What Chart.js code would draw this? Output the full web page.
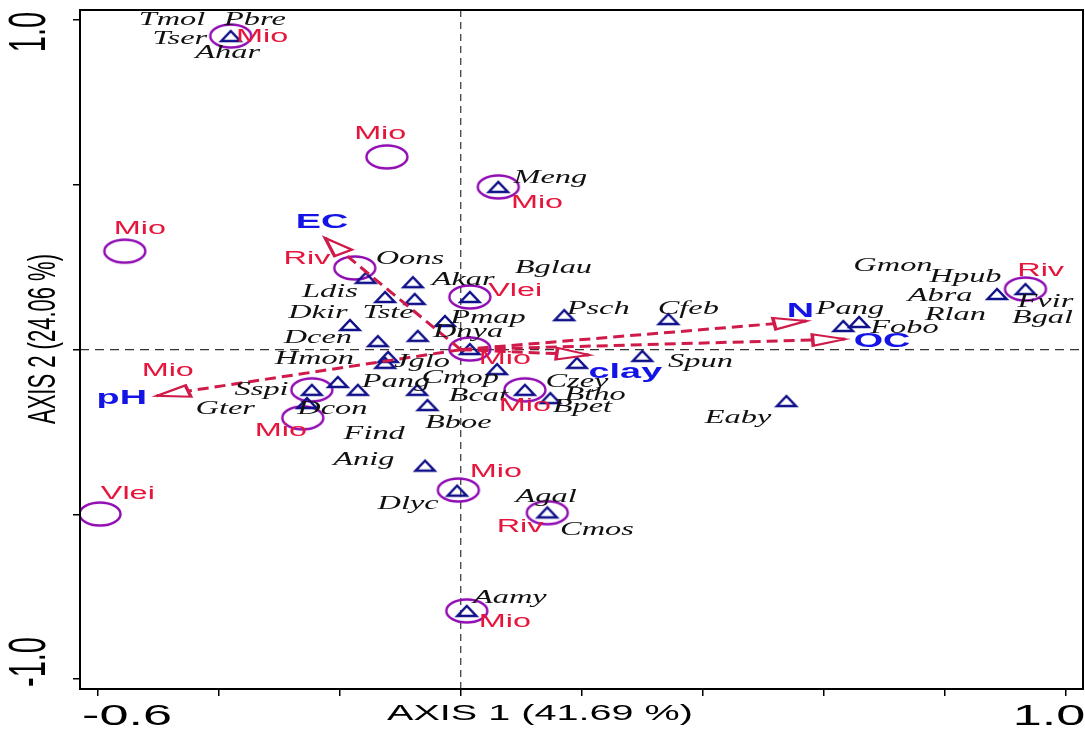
<!DOCTYPE html>
<html>
<head>
  <meta charset="utf-8">
  <title>CCA biplot</title>
  <script src="https://cdn.jsdelivr.net/npm/chart.js"></script>
  <style>
    body { margin: 0; background: #fff; overflow: hidden; }
    #wrap { width: 1085px; height: 730px; position: relative; }
  </style>
</head>
<body>
<div id="wrap"><canvas id="biplot"></canvas></div>
<script>

// site scores (circles) and their labels
var siteNames = ['Mio','Mio','Mio','Mio','Riv','Vlei','Mio','Mio','Mio','Mio','Mio','Riv','Mio','Riv','Vlei'];
var siteX = [-0.380,-0.122,0.062,-0.555,-0.175,0.015,0.015,-0.246,-0.261,0.106,-0.004,0.143,0.010,0.933,-0.596];
var siteY = [0.952,0.585,0.494,0.299,0.248,0.160,0.002,-0.122,-0.207,-0.122,-0.426,-0.495,-0.793,0.184,-0.499];
var siteLabelX = [-0.328,-0.133,0.126,-0.530,-0.254,0.090,0.073,-0.484,-0.297,0.106,0.058,0.098,0.073,0.958,-0.550];
var siteLabelY = [0.949,0.655,0.445,0.366,0.275,0.178,-0.028,-0.065,-0.247,-0.171,-0.371,-0.538,-0.826,0.238,-0.438];

// species scores (triangles)
var sppX = [-0.380,0.062,-0.157,-0.079,-0.125,-0.076,0.015,-0.026,0.171,0.343,-0.183,-0.137,-0.071,0.015,-0.120,-0.125,0.060,0.192,
            0.300,-0.203,-0.170,-0.246,-0.072,-0.055,-0.254,0.106,0.148,0.538,-0.059,-0.006,0.143,0.010,0.632,0.658,0.886,0.933];
var sppY = [0.952,0.494,0.218,0.205,0.160,0.154,0.160,0.087,0.105,0.093,0.075,0.026,0.042,0.002,-0.022,-0.040,-0.059,-0.040,
            -0.019,-0.098,-0.122,-0.122,-0.122,-0.168,-0.162,-0.122,-0.147,-0.156,-0.352,-0.428,-0.494,-0.793,0.072,0.084,0.169,0.184];

// species labels
var sppNames = ['Tmol','Pbre','Tser','Ahar','Meng','Bglau','Oons','Akar','Ldis','Dkir','Tste','Pmap','Psch','Cfeb','Dcen','Dnya',
                'Hmon','Jglo','Cmop','Spun','Pang','Czey','Sspi','Bcat','Btho','Gter','Dcon','Bpet','Bboe','Find','Eaby','Anig',
                'Dlyc','Agal','Cmos','Aamy','Gmon','Hpub','Abra','Pang','Fobo','Rlan','Fvir','Bgal'];
var sppLabelX = [-0.477,-0.340,-0.464,-0.385,0.148,0.153,-0.084,0.004,-0.216,-0.236,-0.120,0.045,0.227,0.376,-0.236,0.012,
                 -0.242,-0.064,-0.001,0.396,-0.107,0.192,-0.329,0.029,0.222,-0.389,-0.212,0.201,-0.004,-0.143,0.458,-0.160,
                 -0.087,0.141,0.225,0.081,0.714,0.834,0.792,0.643,0.733,0.817,0.966,0.961];
var sppLabelY = [1.000,1.000,0.943,0.900,0.521,0.248,0.275,0.211,0.175,0.111,0.111,0.096,0.123,0.123,0.035,0.054,
                 -0.028,-0.037,-0.086,-0.037,-0.098,-0.098,-0.122,-0.140,-0.137,-0.180,-0.180,-0.174,-0.222,-0.256,-0.207,-0.335,
                 -0.468,-0.447,-0.547,-0.756,0.254,0.221,0.163,0.123,0.066,0.105,0.145,0.096];

// environmental vectors
var envNames = ['EC','pH','N','OC','clay'];
var envX = [-0.224,-0.502,0.571,0.635,0.212];
var envY = [0.339,-0.140,0.087,0.032,-0.016];
var envLabelX = [-0.229,-0.560,0.561,0.696,0.272];
var envLabelY = [0.387,-0.147,0.117,0.026,-0.068];

var xTicks = [-0.6,-0.4,-0.2,0,0.2,0.4,0.6,0.8,1.0];
var yTicks = [-1.0,-0.5,0,0.5,1.0];
var xTickLabels = ['-0.6','1.0'];
var yTickLabels = ['1.0','-1.0'];
var xTitle = 'AXIS 1 (41.69 %)';
var yTitle = 'AXIS 2 (24.06 %)';

// the original picture is stretched sideways
var SX = 1.8;
var arrowCol = '#cf1a4a';

function stretchText(ctx, txt, px, py, font, color, angle) {
  ctx.save();
  ctx.translate(px, py);
  ctx.scale(SX, 1);
  if (angle) ctx.rotate(angle);
  ctx.font = font;
  ctx.fillStyle = color;
  ctx.textAlign = 'center';
  ctx.textBaseline = 'middle';
  ctx.fillText(txt, 0, 0);
  ctx.restore();
}

// marker images
function makeEllipse() {
  var c = document.createElement('canvas');
  c.width = 46; c.height = 28;
  var g = c.getContext('2d');
  g.strokeStyle = '#900cb2';
  g.lineWidth = 2.4;
  g.beginPath();
  g.ellipse(23, 14, 20.5, 11.5, 0, 0, Math.PI * 2);
  g.stroke();
  return c;
}
function makeTriangle() {
  var c = document.createElement('canvas');
  c.width = 26; c.height = 16;
  var g = c.getContext('2d');
  g.strokeStyle = '#10108a';
  g.lineWidth = 2.5;
  g.lineJoin = 'miter';
  g.beginPath();
  g.moveTo(3.5, 13);
  g.lineTo(13, 3);
  g.lineTo(22.5, 13);
  g.closePath();
  g.stroke();
  return c;
}

var framePlugin = {
  id: 'frame',
  beforeDatasetsDraw: function(chart) {
    var ctx = chart.ctx, a = chart.chartArea;
    var xs = chart.scales.x, ys = chart.scales.y;
    var x0 = xs.getPixelForValue(0), y0 = ys.getPixelForValue(0);
    ctx.save();
    ctx.strokeStyle = '#333';
    ctx.lineWidth = 1.2;
    ctx.setLineDash([9, 6]);
    ctx.beginPath();
    ctx.moveTo(a.left, y0); ctx.lineTo(a.right, y0);
    ctx.stroke();
    ctx.setLineDash([7, 5]);
    ctx.beginPath();
    ctx.moveTo(x0, a.top); ctx.lineTo(x0, a.bottom);
    ctx.stroke();
    ctx.restore();
  },
  afterDatasetsDraw: function(chart) {
    var ctx = chart.ctx, a = chart.chartArea;
    var xs = chart.scales.x, ys = chart.scales.y;
    var ox = xs.getPixelForValue(0), oy = ys.getPixelForValue(0);

    // arrow heads
    envNames.forEach(function(n, i) {
      var tx = xs.getPixelForValue(envX[i]), ty = ys.getPixelForValue(envY[i]);
      var dx = (tx - ox) / SX, dy = ty - oy;
      var len = Math.sqrt(dx * dx + dy * dy);
      var ux = dx / len, uy = dy / len;
      var L = 18, W = 5.8;
      ctx.save();
      ctx.translate(tx, ty);
      ctx.scale(SX, 1);
      ctx.strokeStyle = arrowCol;
      ctx.fillStyle = '#fff';
      ctx.lineWidth = 2;
      ctx.beginPath();
      ctx.moveTo(0, 0);
      ctx.lineTo(-L * ux - W * uy, -L * uy + W * ux);
      ctx.lineTo(-L * ux + W * uy, -L * uy - W * ux);
      ctx.closePath();
      ctx.fill();
      ctx.stroke();
      ctx.restore();
    });

    // labels
    sppNames.forEach(function(n, i) {
      stretchText(ctx, n, xs.getPixelForValue(sppLabelX[i]), ys.getPixelForValue(sppLabelY[i]),
        'italic 18px "Liberation Serif"', '#111');
    });
    siteNames.forEach(function(n, i) {
      stretchText(ctx, n, xs.getPixelForValue(siteLabelX[i]), ys.getPixelForValue(siteLabelY[i]),
        '18px "Liberation Sans"', '#e6153c');
    });
    envNames.forEach(function(n, i) {
      stretchText(ctx, n, xs.getPixelForValue(envLabelX[i]), ys.getPixelForValue(envLabelY[i]),
        'bold 21px "Liberation Sans"', '#1414e6');
    });

    // box
    ctx.save();
    ctx.strokeStyle = '#000';
    ctx.lineWidth = 2;
    ctx.strokeRect(a.left, a.top, a.right - a.left, a.bottom - a.top);
    ctx.restore();
  },
  afterDraw: function(chart) {
    var ctx = chart.ctx;
    var axisFont = '29px "Liberation Sans"';
    stretchText(ctx, xTickLabels[0], 127, 717, axisFont, '#000');
    stretchText(ctx, xTickLabels[1], 1049, 717, axisFont, '#000');
    stretchText(ctx, yTickLabels[0], 31, 32, axisFont, '#000', -Math.PI / 2);
    stretchText(ctx, yTickLabels[1], 31, 662, axisFont, '#000', -Math.PI / 2);
    stretchText(ctx, xTitle, 540, 714, '22px "Liberation Sans"', '#000');
    stretchText(ctx, yTitle, 44, 339, '22px "Liberation Sans"', '#000', -Math.PI / 2);
  }
};

var datasets = [];
envNames.forEach(function(n, i) {
  datasets.push({
    label: n,
    data: [{x: 0, y: 0}, {x: envX[i], y: envY[i]}],
    showLine: true,
    borderColor: arrowCol,
    borderWidth: 3,
    borderDash: [11, 6],
    pointRadius: 0
  });
});
datasets.push({
  label: 'species',
  data: sppX.map(function(v, i) { return {x: v, y: sppY[i]}; }),
  pointStyle: makeTriangle(),
  pointRadius: 8
});
datasets.push({
  label: 'sites',
  data: siteX.map(function(v, i) { return {x: v, y: siteY[i]}; }),
  pointStyle: makeEllipse(),
  pointRadius: 10
});

var ctx = document.getElementById('biplot').getContext('2d');
var chart = new Chart(ctx, {
  type: 'scatter',
  data: { datasets: datasets },
  options: {
    responsive: true,
    maintainAspectRatio: false,
    animation: false,
    layout: { autoPadding: false, padding: { top: 10, right: 2, left: 0, bottom: 0 } },
    plugins: { legend: { display: false }, tooltip: { enabled: false } },
    scales: {
      x: {
        type: 'linear', min: -0.629, max: 1.028,
        afterBuildTicks: function(s) { s.ticks = xTicks.map(function(v) { return {value: v}; }); },
        afterFit: function(s) { s.height = 41; },
        grid: { drawOnChartArea: false, drawTicks: true, tickLength: 7, color: '#000', lineWidth: 1.5 },
        border: { display: false },
        ticks: { display: false }
      },
      y: {
        type: 'linear', min: -1.030, max: 1.031,
        afterBuildTicks: function(s) { s.ticks = yTicks.map(function(v) { return {value: v}; }); },
        afterFit: function(s) { s.width = 80; },
        grid: { drawOnChartArea: false, drawTicks: true, tickLength: 7, color: '#000', lineWidth: 1.5 },
        border: { display: false },
        ticks: { display: false }
      }
    }
  },
  plugins: [framePlugin]
});

</script>
</body>
</html>
